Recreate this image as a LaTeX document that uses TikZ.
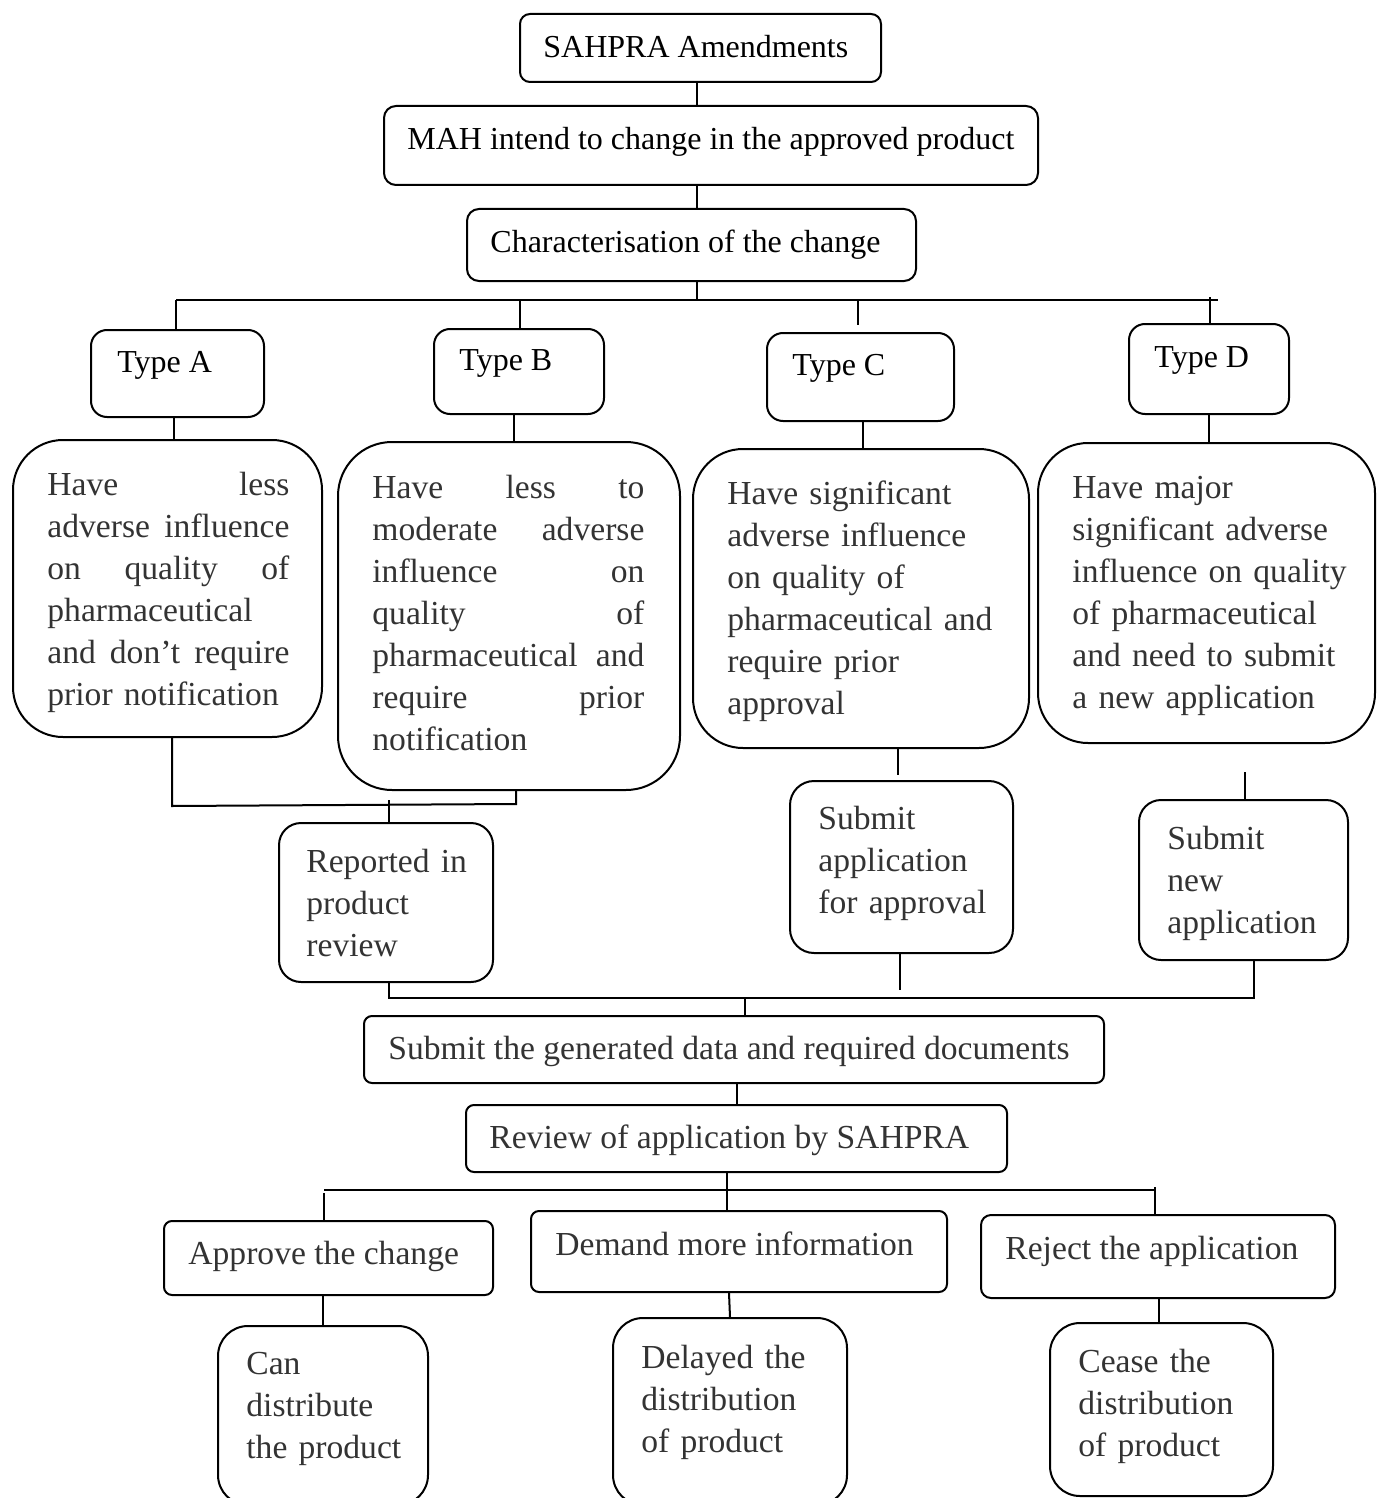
\documentclass[tikz,border=0pt]{standalone}
\usepackage{fontspec}
\setmainfont{Liberation Serif}
\definecolor{txt}{HTML}{333333}
\newcommand\mkbox[6]{\node[box, rounded corners=#6, minimum width={(#4-#2)*0.5pt}, minimum height={(#5-#3)*0.5pt}] (#1) at ({(#2+#4)/2},{(#3+#5)/2}) {};}
\newcommand\sprA[1]{\makebox[121pt][l]{#1}}
\newcommand\sprB[1]{\makebox[136pt][l]{#1}}
\begin{document}
\begin{tikzpicture}[x=0.5pt,y=-0.5pt,
  box/.style={draw=black, line width=1pt, inner sep=0pt},
  conn/.style={draw=black, line width=1pt},
  toptext/.style={inner sep=0pt, anchor=north west, font=\fontsize{16}{20}\selectfont, text=black},
  bodytext/.style={inner sep=0pt, anchor=north west, align=left, font=\fontsize{16.8}{21}\selectfont, text=txt}]
\useasboundingbox (0,0) rectangle (1376,1498);
% boxes
\mkbox{b1}{520}{14}{881}{82}{5pt}
\mkbox{b2}{384}{106}{1038}{185}{6pt}
\mkbox{b3}{467}{209}{916}{281}{6pt}
\mkbox{bA}{91}{330}{264}{417}{8pt}
\mkbox{bB}{434}{329}{604}{414}{8pt}
\mkbox{bC}{767}{333}{954}{421}{8pt}
\mkbox{bD}{1129}{324}{1289}{414}{8pt}
\mkbox{dA}{13}{440}{322}{737}{25pt}
\mkbox{dB}{338}{442}{680}{790}{27pt}
\mkbox{dC}{693}{449}{1029}{748}{25pt}
\mkbox{dD}{1038}{443}{1375}{743}{25pt}
\mkbox{rR}{279}{823}{493}{982}{11pt}
\mkbox{rS}{790}{781}{1013}{953}{12pt}
\mkbox{rN}{1139}{800}{1348}{960}{11pt}
\mkbox{g}{364}{1016}{1104}{1083}{4pt}
\mkbox{rv}{466}{1105}{1007}{1172}{4pt}
\mkbox{ap}{164}{1221}{493}{1295}{4pt}
\mkbox{dm}{531}{1211}{947}{1292}{4pt}
\mkbox{rj}{981}{1215}{1335}{1298}{5pt}
\mkbox{cn}{218}{1326}{428}{1505}{15pt}
\mkbox{dl}{613}{1318}{847}{1505}{15pt}
\mkbox{ce}{1050}{1323}{1273}{1496}{15pt}
% texts
\node[toptext] (t1) at (543,29) {\strut SAHPRA Amendments};
\node[toptext] (t2) at (407,121) {\strut MAH intend to change in the approved product};
\node[toptext] (t3) at (490,224) {\strut Characterisation of the change};
\node[toptext] (tA) at (117,344) {\strut Type A};
\node[toptext] (tB) at (459,342) {\strut Type B};
\node[toptext] (tC) at (792,347) {\strut Type C};
\node[toptext] (tD) at (1154,339) {\strut Type D};
\node[bodytext, text width=121pt] (tdA) at (47,466) {\strut\sprA{Have\hfill less}\\\sprA{adverse\hfill influence}\\\sprA{on\hfill quality\hfill of}\\pharmaceutical\\\sprA{and\hfill don’t\hfill require}\\prior notification};
\node[bodytext, text width=136pt] (tdB) at (372,469) {\strut\sprB{Have\hfill less\hfill to}\\\sprB{moderate\hfill adverse}\\\sprB{influence\hfill on}\\\sprB{quality\hfill of}\\\sprB{pharmaceutical\hfill and}\\\sprB{require\hfill prior}\\notification};
\node[bodytext, text width=150pt] (tdC) at (727,475) {\strut Have significant\\adverse influence\\on quality of\\pharmaceutical and\\require prior\\approval};
\node[bodytext, text width=150pt] (tdD) at (1072,469) {\strut Have major\\significant adverse\\influence on quality\\of pharmaceutical\\and need to submit\\a new application};
\node[bodytext, text width=100pt] (tR) at (306,843) {\strut Reported in\\product\\review};
\node[bodytext, text width=100pt] (tS) at (818,800) {\strut Submit\\application\\for approval};
\node[bodytext, text width=100pt] (tN) at (1167,820) {\strut Submit\\new\\application};
\node[bodytext] (tG) at (388,1030) {\strut Submit the generated data and required documents};
\node[bodytext] (tRv) at (489,1119) {\strut Review of application by SAHPRA};
\node[bodytext] (tAp) at (188,1235) {\strut Approve the change};
\node[bodytext] (tDm) at (555,1226) {\strut Demand more information};
\node[bodytext] (tRj) at (1005,1230) {\strut Reject the application};
\node[bodytext, text width=100pt] (tCn) at (246,1345) {\strut Can\\distribute\\the product};
\node[bodytext, text width=100pt] (tDl) at (641,1339) {\strut Delayed the\\distribution\\of product};
\node[bodytext, text width=100pt] (tCe) at (1078,1343) {\strut Cease the\\distribution\\of product};
% connectors
\coordinate (busT) at (697,300);
\coordinate (busTL) at (176,300);
\coordinate (busTR) at (1218,300);
\draw[conn] (b1.south -| 697,0) -- (b2.north -| 697,0);
\draw[conn] (b2.south -| 697,0) -- (b3.north -| 697,0);
\draw[conn] (b3.south -| 697,0) -- (busT);
\draw[conn] (busTL) -- (busTR);
\draw[conn] (busTL) -- (bA.north -| busTL);
\draw[conn] (520,300) -- (bB.north -| 520,0);
\coordinate (cEnd) at (858,325);
\draw[conn] (858,300) -- (cEnd);
\draw[conn] (1210,297) -- (bD.north -| 1210,0);
\draw[conn] (bA.south -| 174,0) -- (dA.north -| 174,0);
\draw[conn] (bB.south -| 514,0) -- (dB.north -| 514,0);
\draw[conn] (bC.south -| 863,0) -- (dC.north -| 863,0);
\draw[conn] (bD.south -| 1209,0) -- (dD.north -| 1209,0);
% A/B to reported
\coordinate (abL) at (172,806);
\coordinate (abR) at (516,804);
\draw[conn] (dA.south -| 172,0) -- (abL) -- (abR) -- (dB.south -| 516,0);
\draw[conn] (389,800) -- (rR.north -| 389,0);
% C, D
\coordinate (sEnd) at (898,775);
\draw[conn] (dC.south -| 898,0) -- (sEnd);
\coordinate (nTop) at (1245,772);
\draw[conn] (nTop) -- (rN.north -| 1245,0);
% lower bus
\coordinate (lbL) at (389,998);
\coordinate (lbR) at (1254,998);
\draw[conn] (rR.south -| lbL) -- (lbL) -- (lbR) -- (rN.south -| lbR);
\coordinate (sBot) at (900,990);
\draw[conn] (rS.south -| sBot) -- (sBot);
\draw[conn] (745,998) -- (g.north -| 745,0);
\draw[conn] (g.south -| 737,0) -- (rv.north -| 737,0);
\draw[conn] (rv.south -| 727,0) -- (dm.north -| 727,0);
\coordinate (bbL) at (324,1190);
\coordinate (bbR) at (1155,1190);
\draw[conn] (bbL) -- (bbR);
\draw[conn] (324,1193) -- (ap.north -| 324,0);
\draw[conn] (1155,1187) -- (rj.north -| 1155,0);
\draw[conn] (ap.south -| 323,0) -- (cn.north -| 323,0);
\draw[conn] (dm.south -| 729,0) -- (dl.north -| 730,0);
\draw[conn] (rj.south -| 1159,0) -- (ce.north -| 1159,0);
\end{tikzpicture}
\end{document}
